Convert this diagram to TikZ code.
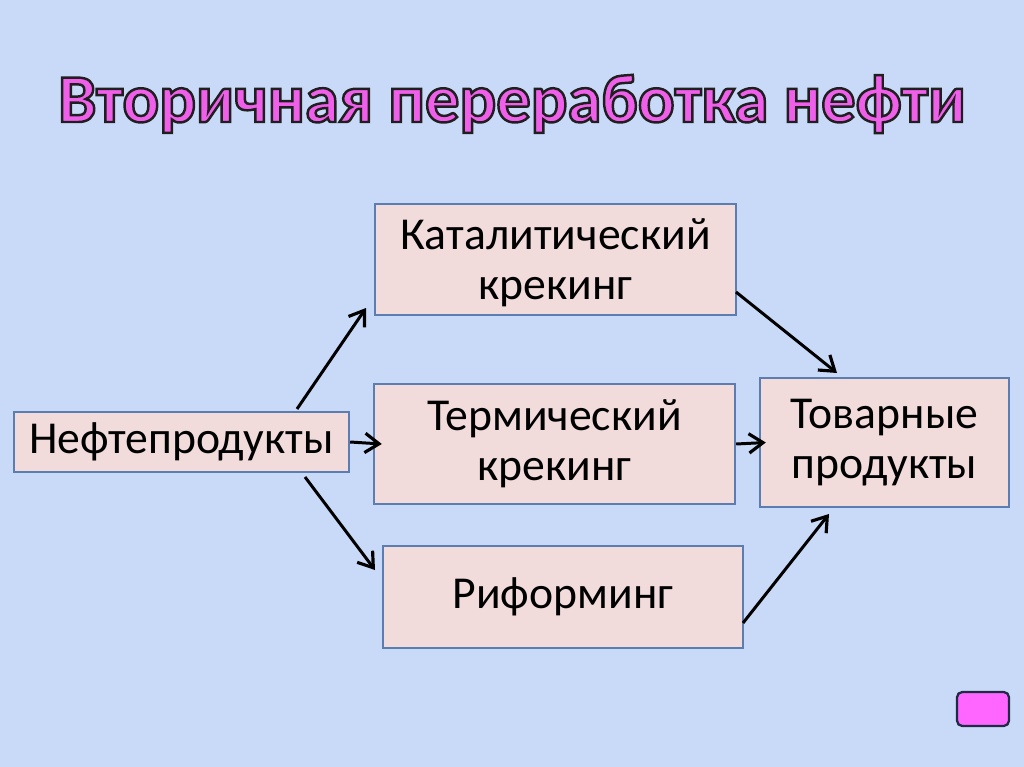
\documentclass[tikz,border=0pt]{standalone}
\usepackage{fontspec}
\setmainfont{Carlito}
\usetikzlibrary{arrows.meta}
\definecolor{slidebg}{HTML}{C9DAF9}
\definecolor{boxfill}{HTML}{F2DCDB}
\definecolor{boxline}{HTML}{5B7DB1}
\definecolor{titlepink}{HTML}{EF5FEA}
\definecolor{btnpink}{HTML}{FF66FF}
\definecolor{btnedge}{HTML}{1F2A44}
\tikzstyle{block}=[draw=boxline,fill=boxfill,line width=1.4pt,align=center,
  font=\fontsize{26}{28.5}\selectfont,inner sep=0pt]
\tikzstyle{flow}=[-{Straight Barb[length=8pt,width=11pt,line width=1.8pt]},line width=1.7pt,black]
% text drawn with fill and dark stroke
\newcommand\edged[1]{\special{pdf:literal direct 2 Tr 1.4 w 0.12 0.12 0.12 RG}#1\special{pdf:literal direct 0 Tr}}

\begin{document}
\begin{tikzpicture}[x=0.02cm,y=-0.02cm]
        \fill[slidebg] (0,0) rectangle (1024,767);
        \useasboundingbox (0,0) rectangle (1024,767);

        % title
        \node[anchor=base,titlepink,font=\fontsize{39}{46}\bfseries] (title)
            at (512,122) {\edged{Вторичная переработка нефти}};

        % boxes
        \node[block,minimum width=6.70cm,minimum height=1.20cm] (neft) at (181.5,442) {Нефтепродукты};
        \node[block,minimum width=7.22cm,minimum height=2.22cm,text depth=0cm] (kat) at (555.5,259.5) {Каталитический\\крекинг};
        \node[block,minimum width=7.22cm,minimum height=2.40cm] (term) at (554.5,444) {Термический\\крекинг};
        \node[block,minimum width=7.20cm,minimum height=2.04cm] (rif) at (563,597) {Риформинг};
        \node[block,minimum width=4.98cm,minimum height=2.58cm] (tov) at (884.5,442.5) {Товарные\\продукты};

        % free ends of the arrows
        \coordinate (neft-up) at (297,409);
        \coordinate (kat-in) at (366,308);
        \coordinate (neft-down) at (305,477);
        \coordinate (rif-in) at (375,570);
        \coordinate (kat-out) at (736,292);
        \coordinate (tov-top) at (837,373);
        \coordinate (rif-out) at (743,623);
        \coordinate (tov-bottom) at (829,514);

        \draw[flow] (neft-up) -- (kat-in);
        \draw[flow] (neft-down) -- (rif-in);
        \draw[flow] (neft.east) -- ([xshift=0.18cm]term.west);
        \draw[flow] (kat-out) -- (tov-top);
        \draw[flow] (term.east) -- ([xshift=0.14cm]tov.west);
        \draw[flow] (rif-out) -- (tov-bottom);

        % slide button
        \draw[btnedge,fill=btnpink,line width=1.3pt,rounded corners=3pt]
            (957,692) rectangle (1009,726);
    \end{tikzpicture}
\end{document}
